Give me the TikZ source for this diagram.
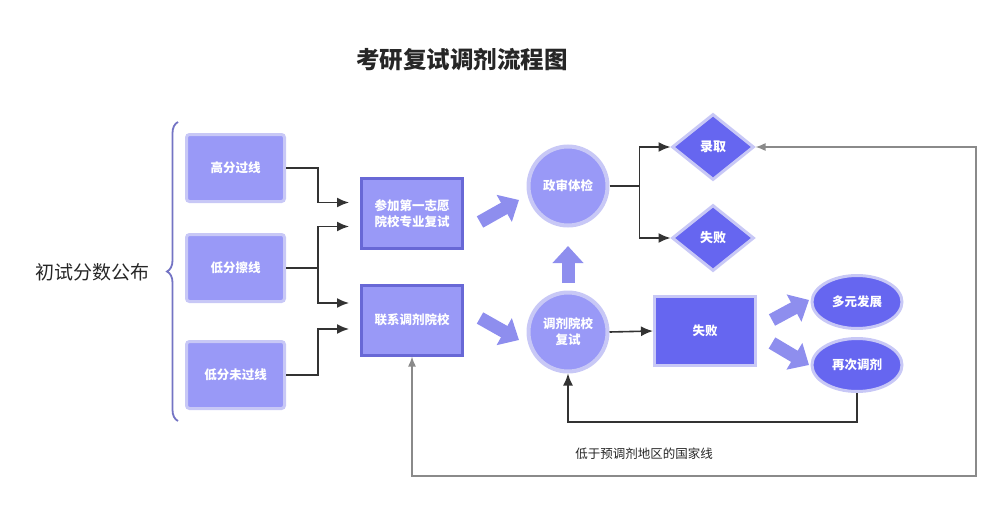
\documentclass[tikz,border=0pt]{standalone}
\usepackage{fontspec}
\newfontfamily\cjk{Noto Sans CJK SC}
\usepackage{xcolor}
\usetikzlibrary{arrows}
\usetikzlibrary{arrows.meta}
\usetikzlibrary{shapes.geometric}
\usetikzlibrary{decorations.pathreplacing}
\definecolor{SoftBlue}{HTML}{9999F7}
\definecolor{PaleBlue}{HTML}{C8C8F6}
\definecolor{DeepBlue}{HTML}{6666F0}
\definecolor{EdgeBlue}{HTML}{6868D6}
\definecolor{FatBlue}{HTML}{8E8EEE}
\definecolor{BraceBlue}{HTML}{7474C4}
\definecolor{LineGray}{HTML}{8A8A8A}
\tikzset{
  every node/.style={font=\cjk},
  scorebox/.style={rectangle, rounded corners=3pt, fill=SoftBlue, draw=PaleBlue,
    line width=3pt, minimum width=98pt, minimum height=67pt, inner sep=0pt,
    text=white, font=\cjk\bfseries\fontsize{12.5}{15}\selectfont},
  stagebox/.style={rectangle, fill=SoftBlue, draw=EdgeBlue, line width=3pt,
    minimum width=101pt, minimum height=70pt, inner sep=0pt, align=center,
    text=white, font=\cjk\bfseries\fontsize{12.5}{16}\selectfont},
  roundnode/.style={circle, fill=SoftBlue, draw=PaleBlue, line width=4pt,
    minimum size=79pt, inner sep=0pt, align=center, text=white,
    font=\cjk\bfseries\fontsize{12.5}{16}\selectfont},
  decision/.style={diamond, fill=DeepBlue, draw=PaleBlue, line width=3pt,
    minimum width=82pt, minimum height=66pt, inner sep=0pt, text=white,
    font=\cjk\bfseries\fontsize{13}{15}\selectfont},
  failbox/.style={rectangle, fill=DeepBlue, draw=PaleBlue, line width=3pt,
    minimum width=101pt, minimum height=69pt, inner sep=0pt, text=white,
    font=\cjk\bfseries\fontsize{12.5}{15}\selectfont},
  outcome/.style={ellipse, fill=DeepBlue, draw=PaleBlue, line width=3pt,
    minimum width=90pt, minimum height=53pt, inner sep=0pt, text=white,
    font=\cjk\bfseries\fontsize{12.5}{15}\selectfont},
  link/.style={draw=black!80, line width=1.6pt, -{Latex[length=12pt,width=10pt]}},
  fatarrow/.style={draw=FatBlue, line width=13pt,
    -{Triangle[width=30pt,length=17pt]}},
}

\begin{document}
\begin{tikzpicture}[x=1pt, y=-1pt]
  \useasboundingbox (0,0) rectangle (1001,506);

  \node[font=\cjk\bfseries\fontsize{23.5}{27}\selectfont, text=black!85] (title) at (462,60) {考研复试调剂流程图};

  % first results
  \node[font=\cjk\fontsize{19}{22}\selectfont, text=black!85] (release) at (92,272) {初试分数公布};
  \draw[BraceBlue, line width=1.8pt, decorate, decoration={brace, amplitude=11pt}]
    (178,421) -- (178,122);

  \node[scorebox] (high) at (235.5,168) {高分过线};
  \node[scorebox] (edge) at (235.5,268) {低分擦线};
  \node[scorebox] (low)  at (235.5,375) {低分未过线};

  \node[stagebox] (first) at (412,213.5) {参加第一志愿\\院校专业复试};
  \node[stagebox] (adj)   at (412,320) {联系调剂院校};

  \node[roundnode] (check)  at (568,186) {政审体检};
  \node[roundnode] (retest) at (568,332) {调剂院校\\复试};

  \node[decision] (admit) at (713,147) {录取};
  \node[decision] (fail)  at (713,238) {失败};

  \node[failbox] (lost) at (705,331) {失败};

  \node[outcome] (diverse) at (857,302) {多元发展};
  \node[outcome] (again)   at (857,365) {再次调剂};

  \node[font=\cjk\fontsize{12.5}{15}\selectfont, text=black!85] (note) at (644,454) {低于预调剂地区的国家线};

  % connectors on the left
  \draw[link, shorten >=11pt] (high.east) -- ++(32,0) |- ([yshift=11pt]first.west);
  \draw[link, shorten >=11pt] (edge.east) -- ++(32,0) |- ([yshift=-13pt]first.west);
  \draw[link, shorten >=11pt] (edge.east) -- ++(32,0) |- ([yshift=17pt]adj.west);
  \draw[link, shorten >=11pt] (low.east) -- ++(32,0) |- ([yshift=-9pt]adj.west);

  % fat arrows
  \coordinate (fa1) at (480,222);
  \coordinate (fb1) at (519,200);
  \coordinate (fa2) at (480,318);
  \coordinate (fb2) at (519,340);
  \coordinate (fa3) at (568,283);
  \coordinate (fb3) at (568,246);
  \coordinate (fa4) at (772,320);
  \coordinate (fb4) at (809,300);
  \coordinate (fa5) at (772,343);
  \coordinate (fb5) at (809,365);
  \foreach \i in {1,...,5}{%
    \draw[fatarrow] (fa\i) -- (fb\i);
  }

  % right part
  \draw[link] (check.east) -- ++(30,0) coordinate (split) |- (admit.west);
  \draw[link] (split) |- (fail.west);
  \draw[link] (retest.east) -- (lost.west);
  \draw[link] (again.south) -- ++(0,29) -| (retest.south);

  \coordinate (gl) at (412,476);
  \coordinate (gr) at (976,476);
  \draw[LineGray, line width=1.5pt, {Latex[length=10pt,width=8pt]}-{Latex[length=10pt,width=8pt]}]
    (adj.south) -- (gl) -- (gr) |- (admit.east);
\end{tikzpicture}
\end{document}
